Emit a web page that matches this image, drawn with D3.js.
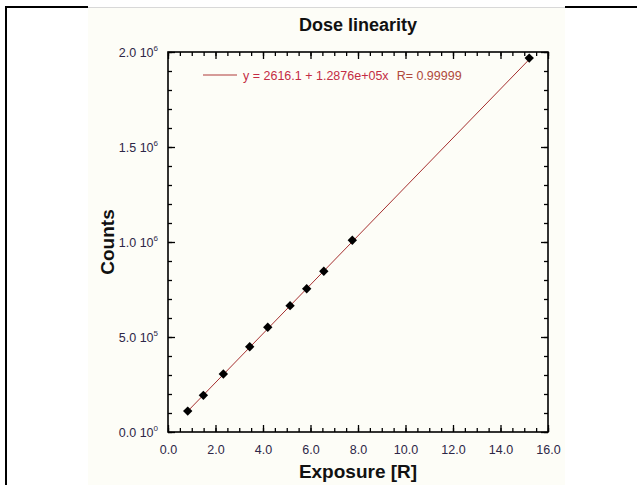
<!DOCTYPE html>
<html>
<head>
<meta charset="utf-8">
<script src="https://cdn.jsdelivr.net/npm/d3@7"></script>
<style>
  body { margin: 0; background: #ffffff; }
  text { font-family: "Liberation Sans", Arial, sans-serif; }
</style>
</head>
<body>
<div id="chart"></div>
<script>
// data
const exposure = [0.83, 1.49, 2.33, 3.44, 4.20, 5.14, 5.84, 6.56, 7.76, 15.21];
const counts = [110000, 193000, 305000, 449000, 551000, 665000, 754000, 846000, 1009000, 1968000];
const fitIntercept = 2616.1, fitSlope = 128760;
const xTicks = [0, 2, 4, 6, 8, 10, 12, 14, 16];
const yTicks = [0, 500000, 1000000, 1500000, 2000000];
const yTickLabels = [["0.0", "0"], ["5.0", "5"], ["1.0", "6"], ["1.5", "6"], ["2.0", "6"]];

let svgWidth = 637, svgHeight = 485;
let margin = {top: 52, right: 89, bottom: 53, left: 168};
let width = svgWidth - margin.left - margin.right, height = svgHeight - margin.top - margin.bottom;

let svg = d3.select("#chart").append("svg")
    .attr("width", svgWidth)
    .attr("height", svgHeight);

// page frame + cream chart image
svg.append("rect").attr("x", 88).attr("y", 8).attr("width", 477).attr("height", 477).attr("fill", "#fdfdf7");
svg.append("line").attr("x1", 88).attr("x2", 565).attr("y1", 7.5).attr("y2", 7.5).attr("stroke", "#d8d8d8").attr("stroke-width", 1);
svg.append("line").attr("x1", 5).attr("x2", 88).attr("y1", 7).attr("y2", 7).attr("stroke", "#000").attr("stroke-width", 2);
svg.append("line").attr("x1", 565).attr("x2", 637).attr("y1", 7).attr("y2", 7).attr("stroke", "#000").attr("stroke-width", 2);
svg.append("line").attr("x1", 6).attr("x2", 6).attr("y1", 6).attr("y2", 485).attr("stroke", "#000").attr("stroke-width", 2);

let g = svg.append("g").attr("transform", "translate(" + margin.left + "," + margin.top + ")");

let x = d3.scaleLinear().domain([0, 16]).range([0, width]);
let y = d3.scaleLinear().domain([0, 2000000]).range([height, 0]);

let xMinor = d3.range(0, 16.01, 0.5);
let yMinor = d3.range(0, 2000001, 100000);

// inward ticks on all four sides
g.append("g").attr("transform", "translate(0," + height + ")")
    .call(d3.axisBottom(x).tickValues(xMinor).tickSize(-4).tickFormat(""));
g.append("g").attr("transform", "translate(0," + height + ")")
    .call(d3.axisBottom(x).tickValues(xTicks).tickSize(-7).tickPadding(13).tickFormat(d3.format(".1f")));
g.append("g").call(d3.axisTop(x).tickValues(xMinor).tickSize(-4).tickFormat(""));
g.append("g").call(d3.axisTop(x).tickValues(xTicks).tickSize(-7).tickFormat(""));
g.append("g").call(d3.axisLeft(y).tickValues(yMinor).tickSize(-4).tickFormat(""));
let yAxis = g.append("g").call(d3.axisLeft(y).tickValues(yTicks).tickSize(-7).tickPadding(12).tickFormat(""));
g.append("g").attr("transform", "translate(" + width + ",0)")
    .call(d3.axisRight(y).tickValues(yMinor).tickSize(-4).tickFormat(""));
g.append("g").attr("transform", "translate(" + width + ",0)")
    .call(d3.axisRight(y).tickValues(yTicks).tickSize(-7).tickFormat(""));

g.selectAll(".domain").remove();
g.selectAll(".tick line").attr("stroke", "#000").attr("stroke-width", 1.3);
g.selectAll(".tick text").attr("font-size", "12.5px").attr("fill", "#2d2747")
    .style("font-family", "'Liberation Sans', Arial, sans-serif");

// y tick labels with superscript exponent
yAxis.selectAll(".tick").each(function(d, i) {
    let t = d3.select(this).append("text")
        .attr("x", -10).attr("y", 4.5)
        .attr("text-anchor", "end")
        .attr("fill", "#2d2747")
        .attr("font-size", "12.5px");
    t.append("tspan").text(yTickLabels[i][0] + " 10");
    t.append("tspan").attr("dy", -6).attr("font-size", "8px").text(yTickLabels[i][1]);
});

// plot frame
g.append("rect").attr("width", width).attr("height", height)
    .attr("fill", "none").attr("stroke", "#000").attr("stroke-width", 1.6);

// fit line
let xMin = d3.min(exposure), xMax = d3.max(exposure);
g.append("line")
    .attr("x1", x(xMin)).attr("y1", y(fitIntercept + fitSlope * xMin))
    .attr("x2", x(xMax)).attr("y2", y(fitIntercept + fitSlope * xMax))
    .attr("stroke", "#a52f2f").attr("stroke-width", 1);

// data points
g.selectAll(".pt")
    .data(exposure)
    .enter()
    .append("path")
    .attr("class", "pt")
    .attr("d", d3.symbol().type(d3.symbolDiamond2).size(56))
    .attr("transform", (d, i) => "translate(" + x(d) + "," + y(counts[i]) + ")")
    .attr("fill", "#000");

// legend
g.append("line").attr("x1", 35).attr("x2", 69).attr("y1", 23).attr("y2", 23)
    .attr("stroke", "#b03a3a").attr("stroke-width", 1.2);
let leg = g.append("text").attr("x", 75).attr("y", 28).attr("font-size", "12.5px");
leg.append("tspan").attr("fill", "#c42c44").text("y = 2616.1 + 1.2876e+05x");
leg.append("tspan").attr("fill", "#b04a3c").attr("dx", 8).text("R= 0.99999");

// titles
svg.append("text").attr("x", margin.left + width / 2).attr("y", 31)
    .attr("text-anchor", "middle").attr("font-size", "18px").attr("font-weight", "bold")
    .attr("fill", "#111").text("Dose linearity");
svg.append("text").attr("x", margin.left + width / 2).attr("y", 478)
    .attr("text-anchor", "middle").attr("font-size", "19px").attr("font-weight", "bold")
    .attr("fill", "#111").text("Exposure [R]");
svg.append("text").attr("transform", "translate(114," + (margin.top + height / 2) + ") rotate(-90)")
    .attr("text-anchor", "middle").attr("font-size", "19px").attr("font-weight", "bold")
    .attr("fill", "#111").text("Counts");
</script>
</body>
</html>
